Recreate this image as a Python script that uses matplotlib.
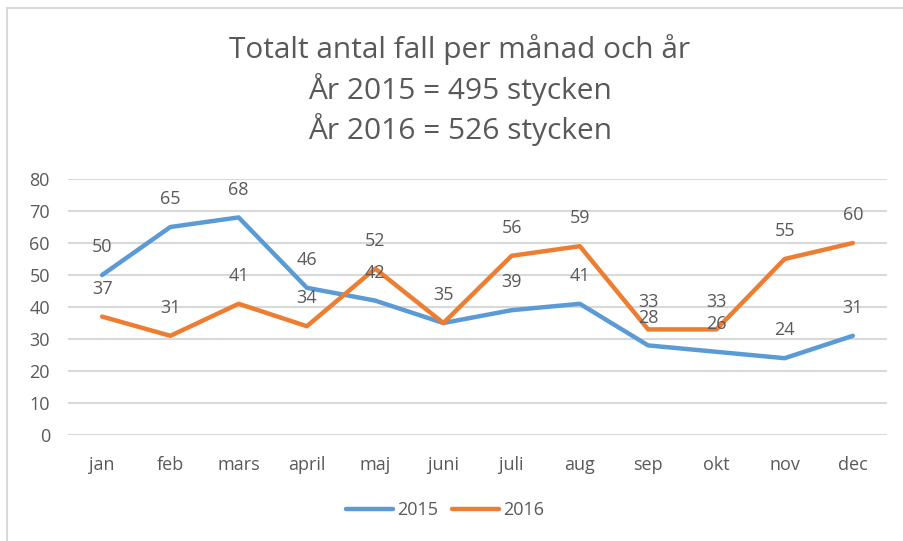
import numpy as np
import matplotlib.pyplot as plt
from matplotlib.patches import Rectangle

# månader och antal fall
months = ['jan', 'feb', 'mars', 'april', 'maj', 'juni', 'juli', 'aug', 'sep', 'okt', 'nov', 'dec']
cases_2015 = [50, 65, 68, 46, 42, 35, 39, 41, 28, 26, 24, 31]
cases_2016 = [37, 31, 41, 34, 52, 35, 56, 59, 33, 33, 55, 60]
yticks = [0, 10, 20, 30, 40, 50, 60, 70, 80]

blue = '#5B9BD5'
orange = '#ED7D31'
textc = '#595959'

plt.rcParams['font.family'] = ['Open Sans', 'DejaVu Sans']

fig = plt.figure(figsize=(9.04, 5.41), dpi=100)
W, H = 904, 541
ax = fig.add_axes([68 / W, 1 - 435 / H, (887 - 68) / W, (435 - 179) / H])

# ramen runt diagrammet
fig.patches.append(Rectangle((7 / W, -0.05), 1.2, 1 - 8 / H + 0.05, transform=fig.transFigure,
                             fill=False, edgecolor='#d9d9d9', linewidth=1.5))

x = np.arange(len(months))
ax.plot(x, cases_2015, color=blue, lw=3.2, label='2015', solid_capstyle='round', solid_joinstyle='round')
ax.plot(x, cases_2016, color=orange, lw=3.2, label='2016', solid_capstyle='round', solid_joinstyle='round')

# dataetiketter
for i, v in enumerate(cases_2015):
    ax.annotate(str(v), (i, v), xytext=(0, 20), textcoords='offset points',
                ha='center', va='center', fontsize=13, color=textc)
for i, v in enumerate(cases_2016):
    if v == cases_2015[i]:
        continue
    ax.annotate(str(v), (i, v), xytext=(0, 20), textcoords='offset points',
                ha='center', va='center', fontsize=13, color=textc)

ax.set_xlim(-0.5, len(months) - 0.5)
ax.set_ylim(0, 80)
ax.set_yticks(yticks)
ax.set_xticks(x)
ax.set_xticklabels(months)
ax.grid(axis='y', color='#d9d9d9', linewidth=1.5)
ax.set_axisbelow(True)
for s in ax.spines.values():
    s.set_visible(False)
ax.tick_params(length=0, labelsize=13, labelcolor=textc)
ax.tick_params(axis='y', pad=13)
ax.tick_params(axis='x', pad=15)

for k, line in enumerate(['Totalt antal fall per månad och år',
                          'År 2015 = 495 stycken',
                          'År 2016 = 526 stycken']):
    fig.text(460 / W, 1 - (50 + 40 * k) / H, line, ha='center', va='center',
             fontsize=21.5, color=textc)

fig.legend(loc='center', bbox_to_anchor=(445 / W, 1 - 510 / H), ncol=2, frameon=False,
           fontsize=13, labelcolor=textc, handlelength=2.6, columnspacing=0.8, handletextpad=0.2)

fig.savefig('out.png', dpi=100)
